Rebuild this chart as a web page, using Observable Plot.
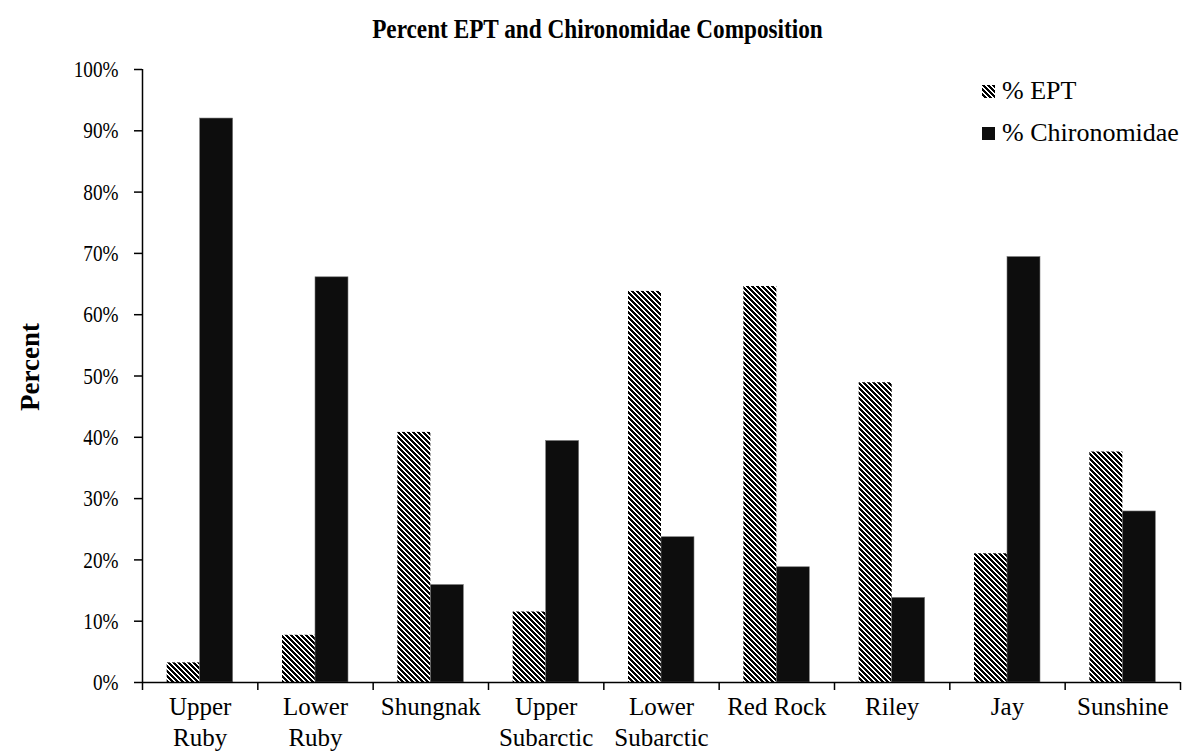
<!DOCTYPE html>
<html><head><meta charset="utf-8">
<script src="https://cdn.jsdelivr.net/npm/d3@7"></script>
<script src="https://cdn.jsdelivr.net/npm/@observablehq/plot@0.6"></script>
<style>
body{margin:0;background:#fff;font-family:"Liberation Serif","Times New Roman",serif;color:#000;}
#wrap{position:relative;width:1195px;height:752px;overflow:hidden;}
#title{height:50px;line-height:58px;text-align:center;}
#title span{display:inline-block;font-weight:bold;font-size:28px;transform:scaleX(0.83);font-family:"Liberation Serif","Times New Roman",serif;}
#legend{position:absolute;left:982px;top:76px;font-size:26px;font-family:"Liberation Serif","Times New Roman",serif;}
.row{display:flex;align-items:center;height:30px;margin-bottom:12px;white-space:nowrap;}
.row span{font-family:"Liberation Serif","Times New Roman",serif;}
.row svg{margin-right:7px;}
</style></head>
<body><div id="wrap"><div id="title"><span>Percent EPT and Chironomidae Composition</span></div><div id="chart"></div><div id="legend"></div></div>
<script>
const sites = ["Upper\nRuby","Lower\nRuby","Shungnak","Upper\nSubarctic","Lower\nSubarctic","Red Rock","Riley","Jay","Sunshine"];
const seriesNames = ["% EPT","% Chironomidae"];
const eptValues = [3.2, 7.7, 40.8, 11.5, 63.8, 64.6, 48.9, 21.0, 37.6];
const chiroValues = [92.0, 66.1, 15.9, 39.4, 23.7, 18.8, 13.8, 69.4, 27.9];
const yTicks = [0,10,20,30,40,50,60,70,80,90,100];
const yLabel = "Percent";

// group layout within each category band (fraction of band)
const groupStart = 0.214, barW = 0.286;
const rows = [];
sites.forEach((s, i) => {
  rows.push({site: s, series: seriesNames[0], value: eptValues[i], x1: i + groupStart, x2: i + groupStart + barW});
  rows.push({site: s, series: seriesNames[1], value: chiroValues[i], x1: i + groupStart + barW, x2: i + groupStart + 2*barW});
});

const FILL_EPT = "url(#eptPattern)", FILL_CH = "#0d0d0d";
// diagonal stripe tile (top-left to bottom-right), period 5px, 3px black
const P = 5;
let pd = "";
for (let r = 0; r < P; r++) for (let k = 0; k < 3; k++) { const c = (r + k) % P; pd += `M${c},${r}h1v1h-1z `; }
const patternDef = `<pattern id="ID" patternUnits="userSpaceOnUse" width="${P}" height="${P}"><rect width="${P}" height="${P}" fill="#fff"/><path shape-rendering="crispEdges" d="${pd}" fill="#000"/></pattern>`;

const chart = Plot.plot({
  width: 1195, height: 702,
  marginTop: 19, marginBottom: 70, marginLeft: 142, marginRight: 15,
  style: {fontFamily: "'Liberation Serif','Times New Roman',serif", fontSize: "25px", color: "#000", background: "#fff"},
  x: {type: "linear", domain: [0, sites.length]},
  y: {domain: [0, 100]},
  marks: [
    Plot.rectY(rows.filter(d => d.series === seriesNames[0]), {x1: "x1", x2: "x2", y: "value", fill: FILL_EPT}),
    Plot.rectY(rows.filter(d => d.series === seriesNames[1]), {x1: "x1", x2: "x2", y: "value", fill: FILL_CH, stroke: "#777", strokeWidth: 0.6}),
    Plot.ruleY([0], {stroke: "#000", strokeWidth: 1.5}),
    Plot.ruleX([0], {stroke: "#000", strokeWidth: 1.5}),
    Plot.axisY({ticks: yTicks, tickFormat: d => d + "%", tickSize: 8, tickPadding: 16, label: null, strokeWidth: 1.5, fontSize: 24}),
    Plot.axisX({ticks: d3.range(0, sites.length + 1), tickFormat: () => "", tickSize: 8, label: null, strokeWidth: 1.5}),
    Plot.axisX({ticks: sites.map((d, i) => i + 0.5), tickFormat: d => sites[Math.floor(d)], tickSize: 0, tickPadding: 10, lineHeight: 1.25, label: null}),
    Plot.text([yLabel], {frameAnchor: "left", rotate: -90, textAnchor: "middle", dx: -112, dy: -9, fontWeight: "bold", fontSize: 27})
  ]
});
d3.select(chart).insert("defs", ":first-child").html(patternDef.replace("ID", "eptPattern"));
// y tick labels in the reference are slightly condensed
d3.select(chart).selectAll('g[aria-label="y-axis tick label"] text').each(function() {
  const t = d3.select(this);
  const tr = t.attr("transform");
  if (tr) t.attr("transform", tr + " scale(0.8,1)");
  else {
    const x = t.attr("x") || 0, y = t.attr("y") || 0;
    t.attr("transform", `translate(${x},${y}) scale(0.8,1)`).attr("x", null).attr("y", null);
  }
});
document.getElementById("chart").appendChild(chart);

const legend = d3.select("#legend");
seriesNames.forEach((name, k) => {
  const row = legend.append("div").attr("class", "row");
  const sw = row.append("svg").attr("width", 13).attr("height", 13);
  if (k === 0) {
    sw.append("defs").html(patternDef.replace("ID", "eptLeg"));
    sw.append("rect").attr("width", 13).attr("height", 13).attr("fill", "url(#eptLeg)");
  } else {
    sw.append("rect").attr("width", 13).attr("height", 13).attr("fill", FILL_CH);
  }
  row.append("span").text(name);
});
</script>
</body></html>
